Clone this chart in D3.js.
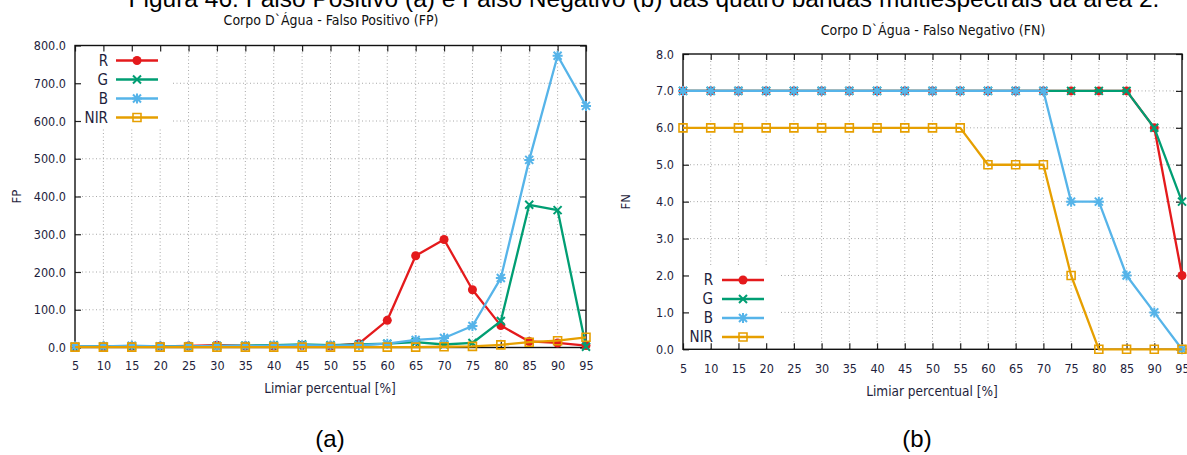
<!DOCTYPE html>
<html>
<head>
<meta charset="utf-8">
<script src="https://cdn.jsdelivr.net/npm/d3@7/dist/d3.min.js"></script>
<style>
  html, body { margin: 0; padding: 0; background: #fff; }
  svg { display: block; }
</style>
</head>
<body>
<svg id="fig" width="1187" height="455"></svg>
<script>
// Threshold values (x axis) shared by both panels
const thresholds = [5, 10, 15, 20, 25, 30, 35, 40, 45, 50, 55, 60, 65, 70, 75, 80, 85, 90, 95];

// Panel (a): false positives per band
const fpR   = [2, 2, 3, 3, 4, 6, 4, 4, 5, 4, 10, 72, 243, 286, 153, 58, 16, 12, 5];
const fpG   = [2, 3, 3, 3, 3, 4, 5, 6, 8, 6, 8, 10, 14, 8, 12, 70, 378, 364, 2];
const fpB   = [3, 3, 5, 3, 3, 4, 4, 5, 6, 5, 6, 10, 20, 25, 57, 184, 497, 773, 640];
const fpNIR = [1, 1, 1, 1, 1, 1, 1, 1, 1, 1, 1, 1, 1, 2, 3, 7, 14, 18, 27];

// Panel (b): false negatives per band
const fnR   = [7, 7, 7, 7, 7, 7, 7, 7, 7, 7, 7, 7, 7, 7, 7, 7, 7, 6, 2];
const fnG   = [7, 7, 7, 7, 7, 7, 7, 7, 7, 7, 7, 7, 7, 7, 7, 7, 7, 6, 4];
const fnB   = [7, 7, 7, 7, 7, 7, 7, 7, 7, 7, 7, 7, 7, 7, 4, 4, 2, 1, 0];
const fnNIR = [6, 6, 6, 6, 6, 6, 6, 6, 6, 6, 6, 5, 5, 5, 2, 0, 0, 0, 0];

const yTicksFP = [0, 100, 200, 300, 400, 500, 600, 700, 800];
const yTicksFN = [0, 1, 2, 3, 4, 5, 6, 7, 8];

const bandNames = ["R", "G", "B", "NIR"];

const captionText = "Figura 46: Falso Positivo (a) e Falso Negativo (b) das quatro bandas multiespectrais da área 2.";

const bandStyle = {
  R:   { color: "#e41a1c", marker: "circle" },
  G:   { color: "#009e73", marker: "cross" },
  B:   { color: "#56b4e9", marker: "star" },
  NIR: { color: "#e69f00", marker: "square" }
};

const svg = d3.select("#fig");
const tickFont = "'DejaVu Sans Condensed', 'DejaVu Sans', sans-serif";
const textColor = "#1e1e3c";

// Figure caption (partly above the top edge)
svg.append("text")
  .attr("x", 644).attr("y", 7)
  .attr("text-anchor", "middle")
  .style("font-family", "'Liberation Sans', Arial, sans-serif")
  .style("font-size", "24.5px")
  .attr("fill", "#000")
  .text(captionText);

function markerPath(kind) {
  if (kind === "cross") return "M-4,-4L4,4M-4,4L4,-4";
  if (kind === "star") return "M-4,-4L4,4M-4,4L4,-4M0,-5L0,5M-5,0L5,0";
  if (kind === "square") return "M-4,-4H4V4H-4Z";
  return null;
}

function drawMarker(g, kind, color, x, y) {
  if (kind === "circle") {
    g.append("circle").attr("cx", x).attr("cy", y).attr("r", 4.5).attr("fill", color);
  } else {
    g.append("path")
      .attr("transform", `translate(${x},${y})`)
      .attr("d", markerPath(kind))
      .attr("fill", "none")
      .attr("stroke", color)
      .attr("stroke-width", kind === "square" ? 1.6 : 2);
  }
}

function drawPanel(cfg) {
  const { left, right, top, bottom } = cfg.box;
  const g = svg.append("g");

  const x = d3.scaleLinear().domain([5, 95]).range([left, right]);
  const y = d3.scaleLinear().domain([cfg.yTicks[0], cfg.yTicks[cfg.yTicks.length - 1]]).range([bottom, top]);

  // dotted grid
  const grid = g.append("g").attr("stroke", "#a8a8a8").attr("stroke-width", 1).attr("stroke-dasharray", "1,2.5");
  thresholds.slice(1, -1).forEach(t => {
    grid.append("line").attr("x1", x(t)).attr("x2", x(t)).attr("y1", top).attr("y2", bottom);
  });
  cfg.yTicks.slice(1, -1).forEach(v => {
    grid.append("line").attr("x1", left).attr("x2", right).attr("y1", y(v)).attr("y2", y(v));
  });

  // opaque key background hides the grid beneath the legend
  g.append("rect")
    .attr("x", cfg.keyBox.x0).attr("y", cfg.keyBox.y0)
    .attr("width", cfg.keyBox.x1 - cfg.keyBox.x0)
    .attr("height", cfg.keyBox.y1 - cfg.keyBox.y0)
    .attr("fill", "#fff");

  // axes with inward mirrored ticks
  const fmt = d3.format(".1f");
  const axB = d3.axisBottom(x).tickValues(thresholds).tickSize(-6).tickPadding(cfg.xTickPad).tickFormat(d3.format("d"));
  const axT = d3.axisTop(x).tickValues(thresholds).tickSize(-6).tickFormat("");
  const axL = d3.axisLeft(y).tickValues(cfg.yTicks).tickSize(-6).tickPadding(9).tickFormat(fmt);
  const axR = d3.axisRight(y).tickValues(cfg.yTicks).tickSize(-6).tickFormat("");

  const axes = [
    g.append("g").attr("transform", `translate(0,${bottom})`).call(axB),
    g.append("g").attr("transform", `translate(0,${top})`).call(axT),
    g.append("g").attr("transform", `translate(${left},0)`).call(axL),
    g.append("g").attr("transform", `translate(${right},0)`).call(axR)
  ];
  axes.forEach(a => {
    a.select(".domain").remove();
    a.selectAll(".tick line").attr("stroke", "#222").attr("stroke-width", 1.2);
    a.selectAll(".tick text")
      .attr("fill", textColor)
      .style("font-family", tickFont)
      .style("font-size", "12.5px");
  });

  // border
  g.append("rect")
    .attr("x", left).attr("y", top)
    .attr("width", right - left).attr("height", bottom - top)
    .attr("fill", "none").attr("stroke", "#111").attr("stroke-width", 1.4);

  // series
  const line = d3.line().x((d, i) => x(thresholds[i])).y(d => y(d));
  bandNames.forEach(name => {
    const st = bandStyle[name];
    const vals = cfg.series[name];
    const sg = g.append("g");
    sg.append("path").datum(vals)
      .attr("d", line)
      .attr("fill", "none")
      .attr("stroke", st.color)
      .attr("stroke-width", 2.3)
      .attr("stroke-linejoin", "round");
    vals.forEach((v, i) => drawMarker(sg, st.marker, st.color, x(thresholds[i]), y(v)));
  });

  // legend
  const lg = g.append("g");
  bandNames.forEach((name, i) => {
    const st = bandStyle[name];
    const ly = cfg.key.y + i * 19;
    lg.append("text")
      .attr("x", cfg.key.textX).attr("y", ly).attr("dy", "0.36em")
      .attr("text-anchor", "end")
      .attr("fill", textColor)
      .style("font-family", tickFont)
      .style("font-size", "15px")
      .text(name);
    lg.append("line")
      .attr("x1", cfg.key.lineX0).attr("x2", cfg.key.lineX1)
      .attr("y1", ly).attr("y2", ly)
      .attr("stroke", st.color).attr("stroke-width", 2.3);
    drawMarker(lg, st.marker, st.color, (cfg.key.lineX0 + cfg.key.lineX1) / 2, ly);
  });

  // titles
  g.append("text")
    .attr("x", cfg.titleX).attr("y", cfg.titleY)
    .attr("text-anchor", "middle")
    .attr("fill", "#111")
    .style("font-family", tickFont)
    .style("font-size", "14px")
    .text(cfg.title);

  g.append("text")
    .attr("x", cfg.xLabelX).attr("y", cfg.xLabelY)
    .attr("text-anchor", "middle")
    .attr("fill", textColor)
    .style("font-family", tickFont)
    .style("font-size", "13.5px")
    .text("Limiar percentual [%]");

  g.append("text")
    .attr("transform", `translate(${cfg.yLabelX},${(top + bottom) / 2}) rotate(-90)`)
    .attr("text-anchor", "middle")
    .attr("dy", "0.36em")
    .attr("fill", textColor)
    .style("font-family", tickFont)
    .style("font-size", "13px")
    .text(cfg.yLabel);

  g.append("text")
    .attr("x", cfg.panelLabelX).attr("y", 447)
    .attr("text-anchor", "middle")
    .attr("fill", "#000")
    .style("font-family", "'Liberation Sans', Arial, sans-serif")
    .style("font-size", "24px")
    .text(cfg.panelLabel);
}

drawPanel({
  box: { left: 75, right: 586, top: 45.5, bottom: 347.5 },
  yTicks: yTicksFP,
  series: { R: fpR, G: fpG, B: fpB, NIR: fpNIR },
  keyBox: { x0: 76, x1: 173, y0: 46, y1: 128 },
  key: { y: 60.5, textX: 108, lineX0: 116, lineX1: 158 },
  title: "Corpo D`Água  - Falso Positivo (FP)",
  titleX: 331, titleY: 25,
  xTickPad: 14,
  xLabelX: 330, xLabelY: 393,
  yLabel: "FP", yLabelX: 16,
  panelLabel: "(a)", panelLabelX: 330
});

drawPanel({
  box: { left: 683, right: 1182, top: 54, bottom: 349.3 },
  yTicks: yTicksFN,
  series: { R: fnR, G: fnG, B: fnB, NIR: fnNIR },
  keyBox: { x0: 684, x1: 780, y0: 267, y1: 348 },
  key: { y: 280, textX: 713, lineX0: 722, lineX1: 764 },
  title: "Corpo D`Água  - Falso Negativo (FN)",
  titleX: 933, titleY: 35,
  xTickPad: 15,
  xLabelX: 932, xLabelY: 396,
  yLabel: "FN", yLabelX: 625,
  panelLabel: "(b)", panelLabelX: 917
});
</script>
</body>
</html>
